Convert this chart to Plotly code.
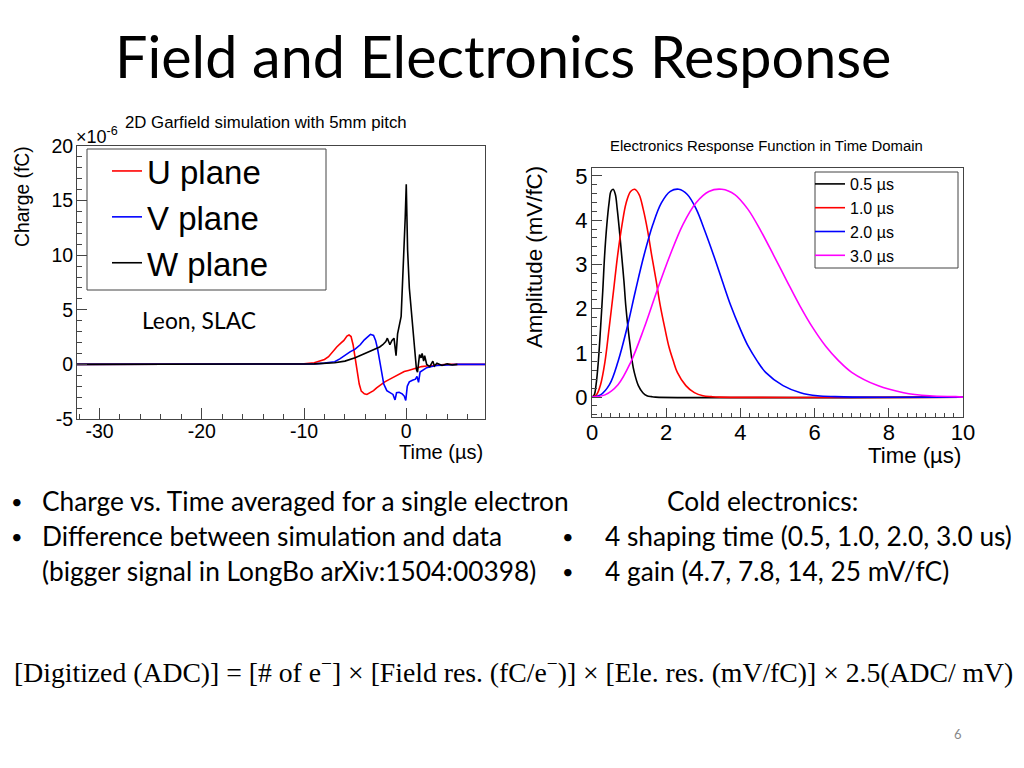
import plotly.graph_objects as go

# the page has an 8px body margin -> the 1008x752 figure sits at (8, 8) of the 1024x768 window
OFF = 8
W, H = 1008, 752

# ---------------- Left chart data (Garfield field response) ----------------
u_time = [-32.2, -12.0, -10.0, -9.0, -8.5, -8.0, -7.6, -7.2, -6.8, -6.4, -6.1, -5.8, -5.6, -5.4, -5.2,
          -5.0, -4.8, -4.6, -4.4, -4.1, -3.85, -3.5, -3.2, -2.9, -2.5, -2.1, -1.6, -1.1, -0.6, -0.2,
          0.2, 0.6, 1.0, 1.5, 2.0, 3.0, 4.0, 7.7]
u_charge = [0, 0, 0.05, 0.15, 0.3, 0.45, 0.7, 1.2, 1.6, 1.95, 2.2, 2.6, 2.7, 2.55, 1.8,
            0.6, -0.6, -1.8, -2.45, -2.7, -2.75, -2.6, -2.4, -2.15, -1.85, -1.6, -1.35, -1.1, -0.8, -0.65,
            -0.55, -0.45, -0.3, -0.2, -0.15, -0.05, 0, 0]

v_time = [-32.2, -10.0, -9.0, -8.0, -7.0, -6.5, -6.0, -5.5, -5.0, -4.5, -4.1, -3.8, -3.5, -3.2, -3.0,
          -2.8, -2.6, -2.4, -2.2, -1.9, -1.6, -1.3, -1.1, -0.95, -0.7, -0.4, -0.2, -0.05, 0.1, 0.3,
          0.6, 0.9, 1.05, 1.2, 1.35, 1.7, 2.0, 2.5, 3.0, 4.0, 5.0, 7.7]
v_charge = [0, 0, 0.05, 0.12, 0.25, 0.5, 0.85, 1.15, 1.4, 1.8, 2.25, 2.55, 2.75, 2.65, 2.2,
            1.4, 0.2, -0.9, -1.8, -2.4, -2.6, -2.75, -3.25, -2.6, -2.55, -2.7, -2.9, -3.3, -2.0, -1.6,
            -1.45, -1.35, -1.1, -1.65, -0.7, -0.45, -0.3, -0.2, -0.1, -0.05, 0, 0]

w_time = [-32.2, -11.0, -9.0, -7.0, -6.0, -5.0, -4.5, -4.0, -3.5, -3.0, -2.6, -2.3, -2.0, -1.85, -1.6,
          -1.4, -1.2, -1.0, -0.85, -0.5, -0.2, -0.1, 0.0, 0.05, 0.13, 0.3, 0.55, 0.71, 0.9, 1.0,
          1.1, 1.2, 1.3, 1.45, 1.55, 1.7, 1.8, 2.0, 2.3, 2.6, 2.75, 3.0, 3.5, 4.0, 4.5, 5.0]
w_charge = [0, 0, 0.05, 0.15, 0.3, 0.6, 0.8, 1.0, 1.2, 1.4, 1.6, 1.8, 2.1, 2.4, 1.8,
            2.2, 2.4, 0.8, 2.8, 4.4, 10.5, 13.5, 16.5, 13.5, 10.5, 7.0, 4.35, 2.85, 1.3, -0.5,
            -0.7, 0.4, 0.9, 0.6, 1.0, 0.3, 0.8, 0.0, -0.2, 0.3, -0.15, 0.1, -0.1, 0.05, -0.05, 0]

left_xtick_vals = [-30, -20, -10, 0]
left_xtick_text = ["-30", "-20", "-10", "0"]
left_ytick_vals = [-5, 0, 5, 10, 15, 20]
left_ytick_text = ["-5", "0", "5", "10", "15", "20"]

# ---------------- Right chart data (electronics response) ----------------
t05 = [0, 0.06, 0.11, 0.17, 0.23, 0.29, 0.34, 0.40, 0.46, 0.51, 0.57, 0.63, 0.68, 0.74, 0.80, 0.86,
       0.91, 0.97, 1.03, 1.08, 1.14, 1.25, 1.37, 1.48, 1.60, 1.71, 10.0]
a05 = [0, 0.05, 0.28, 0.80, 1.55, 2.40, 3.20, 3.90, 4.39, 4.65, 4.70, 4.58, 4.25, 3.76, 3.20, 2.63,
       2.07, 1.57, 1.15, 0.82, 0.56, 0.26, 0.10, 0.03, 0.01, 0, 0]
t10 = [0, 0.12, 0.23, 0.35, 0.46, 0.58, 0.69, 0.81, 0.92, 1.04, 1.15, 1.27, 1.38, 1.50, 1.61, 1.73,
       1.84, 1.96, 2.07, 2.19, 2.30, 2.53, 2.76, 2.99, 3.22, 3.45, 10.0]
a10 = [0, 0.05, 0.28, 0.80, 1.55, 2.40, 3.20, 3.90, 4.39, 4.65, 4.70, 4.58, 4.25, 3.76, 3.20, 2.63,
       2.07, 1.57, 1.15, 0.82, 0.56, 0.26, 0.10, 0.03, 0.01, 0, 0]
t20 = [0, 0.23, 0.47, 0.70, 0.94, 1.17, 1.40, 1.64, 1.87, 2.11, 2.34, 2.57, 2.81, 3.04, 3.28, 3.51,
       3.74, 3.98, 4.21, 4.45, 4.68, 5.15, 5.62, 6.08, 6.55, 7.02, 10.0]
a20 = [0, 0.05, 0.28, 0.80, 1.55, 2.40, 3.20, 3.90, 4.39, 4.65, 4.70, 4.58, 4.25, 3.76, 3.20, 2.63,
       2.07, 1.57, 1.15, 0.82, 0.56, 0.26, 0.10, 0.03, 0.01, 0, 0]
t30 = [0, 0.35, 0.70, 1.05, 1.40, 1.75, 2.10, 2.45, 2.80, 3.15, 3.50, 3.85, 4.20, 4.55, 4.90, 5.25,
       5.60, 5.95, 6.30, 6.65, 7.00, 7.70, 8.40, 9.10, 9.80, 10.0]
a30 = [0, 0.05, 0.28, 0.80, 1.55, 2.40, 3.20, 3.90, 4.39, 4.65, 4.70, 4.58, 4.25, 3.76, 3.20, 2.63,
       2.07, 1.57, 1.15, 0.82, 0.56, 0.26, 0.10, 0.03, 0.01, 0]

right_xtick_vals = [0, 2, 4, 6, 8, 10]
right_ytick_vals = [0, 1, 2, 3, 4, 5]

ROOT_FONT = "Liberation Sans"
SLIDE_FONT = "Lato"
AX = "#444444"


def px(x):
    return (x - OFF) / W


def py(y):
    return 1 - (y - OFF) / H


fig = go.Figure()

# left traces
fig.add_trace(go.Scatter(x=u_time, y=u_charge, mode="lines", name="U plane",
                         line=dict(color="#ff0000", width=1.6), xaxis="x", yaxis="y", legend="legend"))
fig.add_trace(go.Scatter(x=v_time, y=v_charge, mode="lines", name="V plane",
                         line=dict(color="#0000ff", width=1.6), xaxis="x", yaxis="y", legend="legend"))
fig.add_trace(go.Scatter(x=w_time, y=w_charge, mode="lines", name="W plane",
                         line=dict(color="#000000", width=1.6), xaxis="x", yaxis="y", legend="legend"))

# right traces
for t, a, c, n in [(t05, a05, "#000000", "0.5 µs"), (t10, a10, "#ff0000", "1.0 µs"),
                   (t20, a20, "#0000ff", "2.0 µs"), (t30, a30, "#ff00ff", "3.0 µs")]:
    fig.add_trace(go.Scatter(x=t, y=a, mode="lines", name=n,
                             line=dict(color=c, width=1.6, shape="spline", smoothing=1.0),
                             xaxis="x2", yaxis="y2", legend="legend2"))

common_axis = dict(showline=True, mirror=True, linecolor=AX, linewidth=1, ticks="inside",
                   tickcolor=AX, showgrid=False, zeroline=False, fixedrange=True)

fig.update_layout(
    width=W, height=H, margin=dict(l=0, r=0, t=0, b=0, autoexpand=False),
    paper_bgcolor="white", plot_bgcolor="white",
    xaxis=dict(domain=[px(77), px(485)], range=[-32.2, 7.7], anchor="y",
               tickvals=left_xtick_vals, ticktext=left_xtick_text, ticklen=11, ticklabelstandoff=-5,
               minor=dict(dtick=2, tick0=0, ticklen=5, ticks="inside", tickcolor=AX, showgrid=False),
               tickfont=dict(family=ROOT_FONT, size=19.5, color="black"), **common_axis),
    yaxis=dict(domain=[py(419), py(146)], range=[-5, 20], anchor="x",
               tickvals=left_ytick_vals, ticktext=left_ytick_text, ticklen=10, ticklabelstandoff=-1,
               minor=dict(dtick=1, tick0=0, ticklen=5, ticks="inside", tickcolor=AX, showgrid=False),
               tickfont=dict(family=ROOT_FONT, size=19.5, color="black"), **common_axis),
    xaxis2=dict(domain=[px(592), px(963)], range=[0, 10], anchor="y2",
                tickvals=right_xtick_vals, ticklen=9, ticklabelstandoff=-4,
                minor=dict(dtick=0.25, tick0=0, ticklen=4.5, ticks="inside", tickcolor=AX, showgrid=False),
                tickfont=dict(family=ROOT_FONT, size=22, color="black"), **common_axis),
    yaxis2=dict(domain=[py(417), py(168)], range=[-0.45, 5.18], anchor="x2",
                tickvals=right_ytick_vals, ticklen=10, ticklabelstandoff=-1,
                minor=dict(dtick=0.2, tick0=0, ticklen=5, ticks="inside", tickcolor=AX, showgrid=False),
                tickfont=dict(family=ROOT_FONT, size=22, color="black"), **common_axis),
    legend=dict(x=px(107), y=py(143), xanchor="left", yanchor="top", bgcolor="rgba(0,0,0,0)",
                borderwidth=0, font=dict(family=ROOT_FONT, size=33, color="black"), tracegroupgap=0),
    legend2=dict(x=px(810), y=py(167), xanchor="left", yanchor="top", bgcolor="rgba(0,0,0,0)",
                 borderwidth=0, font=dict(family=ROOT_FONT, size=16, color="black"), tracegroupgap=0),
    showlegend=True,
)

# legend frames
fig.add_shape(type="rect", xref="paper", yref="paper", x0=px(87), x1=px(326), y0=py(290), y1=py(149),
              line=dict(color=AX, width=1), fillcolor="rgba(0,0,0,0)")
fig.add_shape(type="rect", xref="paper", yref="paper", x0=px(815), x1=px(958), y0=py(268), y1=py(172),
              line=dict(color=AX, width=1), fillcolor="rgba(0,0,0,0)")


def ann(text, x, y, size, family, xanchor="center", yanchor="middle", color="black", angle=0):
    fig.add_annotation(text=text, x=px(x), y=py(y), xref="paper", yref="paper", showarrow=False,
                       xanchor=xanchor, yanchor=yanchor, textangle=angle,
                       font=dict(size=size, family=family, color=color))


# chart texts
ann("2D Garfield simulation with 5mm pitch", 266, 122, 16.8, ROOT_FONT)
ann("×10<sup>-6</sup>", 74, 135, 18, ROOT_FONT, xanchor="left")
ann("Charge (fC)", 22, 197, 19.3, ROOT_FONT, angle=-90)
ann("Time (µs)", 485, 452, 20, ROOT_FONT, xanchor="right")
ann("Leon, SLAC", 140, 320, 22.8, SLIDE_FONT, xanchor="left")
ann("Electronics Response Function in Time Domain", 766, 146, 14.9, ROOT_FONT)
ann("Amplitude (mV/fC)", 535, 257, 22.3, ROOT_FONT, angle=-90)
ann("Time (µs)", 963, 455, 22.2, ROOT_FONT, xanchor="right")

# slide texts
ann("Field and Electronics Response", 503, 56, 57.5, SLIDE_FONT)
ann("•", 9, 501, 20, SLIDE_FONT, xanchor="left")
ann("Charge vs. Time averaged for a single electron", 40, 501, 26.3, SLIDE_FONT, xanchor="left")
ann("•", 9, 536, 20, SLIDE_FONT, xanchor="left")
ann("Difference between simulation and data", 40, 536, 26.3, SLIDE_FONT, xanchor="left")
ann("(bigger signal in LongBo arXiv:1504:00398)", 40, 571, 26.3, SLIDE_FONT, xanchor="left")
ann("Cold electronics:", 762, 501, 26.3, SLIDE_FONT)
ann("•", 560, 536, 20, SLIDE_FONT, xanchor="left")
ann("4 shaping time (0.5, 1.0, 2.0, 3.0 us)", 603, 536, 26.3, SLIDE_FONT, xanchor="left")
ann("•", 560, 571, 20, SLIDE_FONT, xanchor="left")
ann("4 gain (4.7, 7.8, 14, 25 mV/fC)", 603, 571, 26.3, SLIDE_FONT, xanchor="left")
ann("[Digitized (ADC)] = [# of e<sup>−</sup>] × [Field res. (fC/e<sup>−</sup>)] × [Ele. res. (mV/fC)] × 2.5(ADC/ mV)",
    513, 670, 27.7, "Liberation Serif")
ann("6", 958, 734, 13, SLIDE_FONT, color="#888888")

fig.write_html("out.html", config={"displayModeBar": False})
